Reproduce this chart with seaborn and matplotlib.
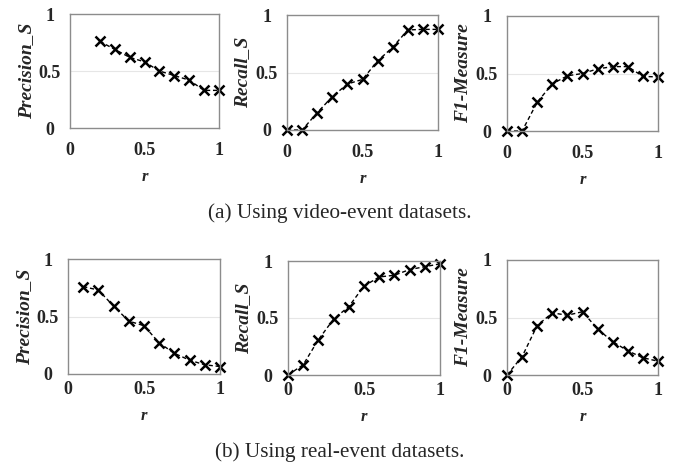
import matplotlib
matplotlib.use("Agg")
import matplotlib.pyplot as plt
import pandas as pd
import seaborn as sns

# values
r_all = [0.0, 0.1, 0.2, 0.3, 0.4, 0.5, 0.6, 0.7, 0.8, 0.9, 1.0]

video_prec_r = [0.2, 0.3, 0.4, 0.5, 0.6, 0.7, 0.8, 0.9, 1.0]
video_prec = [0.76, 0.69, 0.62, 0.58, 0.50, 0.46, 0.42, 0.33, 0.33]
video_recall = [0.0, 0.0, 0.15, 0.29, 0.40, 0.44, 0.60, 0.72, 0.87, 0.875, 0.875]
video_f1 = [0.0, 0.0, 0.25, 0.41, 0.48, 0.50, 0.54, 0.56, 0.56, 0.475, 0.47]

real_prec_r = [0.1, 0.2, 0.3, 0.4, 0.5, 0.6, 0.7, 0.8, 0.9, 1.0]
real_prec = [0.76, 0.73, 0.59, 0.46, 0.42, 0.27, 0.18, 0.12, 0.08, 0.065]
real_recall = [0.0, 0.09, 0.31, 0.49, 0.60, 0.78, 0.86, 0.875, 0.925, 0.95, 0.975]
real_f1 = [0.0, 0.16, 0.43, 0.54, 0.52, 0.55, 0.40, 0.29, 0.21, 0.15, 0.12]

ylabels = ["Precision_S", "Recall_S", "F1-Measure"]
captions = ["(a) Using video-event datasets.", "(b) Using real-event datasets."]

sns.set_style("white")
plt.rcParams["font.family"] = ["Liberation Serif", "DejaVu Serif"]

W, H = 681, 463
fig = plt.figure(figsize=(W / 100, H / 100), dpi=100)

# axes boxes in pixels: (left, top, right, bottom)
boxes = [
    [(70, 14, 219, 128), (287, 15, 438, 130), (507, 16, 658, 131)],
    [(68, 259, 220, 374), (288, 261, 440, 375), (507, 260, 658, 375)],
]
series = [
    [(video_prec_r, video_prec), (r_all, video_recall), (r_all, video_f1)],
    [(real_prec_r, real_prec), (r_all, real_recall), (r_all, real_f1)],
]
xpads = [10, 5]

for row in range(2):
    for col in range(3):
        l, t, r, b = boxes[row][col]
        ax = fig.add_axes([l / W, 1 - b / H, (r - l) / W, (b - t) / H])
        xs, ys = series[row][col]
        df = pd.DataFrame({"r": xs, "v": ys})
        ax.axhline(0.5, color="#e6e6e6", lw=0.8, zorder=0)
        sns.lineplot(data=df, x="r", y="v", ax=ax, color="black", lw=1.0,
                     linestyle=(0, (3, 2)), marker="x", markersize=7,
                     markeredgewidth=1.8, markeredgecolor="black", clip_on=False)
        ax.set_xlim(0, 1)
        ax.set_ylim(0, 1)
        ax.set_xticks([0, 0.5, 1])
        ax.set_xticklabels(["0", "0.5", "1"])
        ax.set_yticks([0, 0.5, 1])
        ax.set_yticklabels(["0", "0.5", "1"])
        ax.tick_params(axis="x", length=0, labelsize=13, pad=xpads[row])
        ax.tick_params(axis="y", length=0, labelsize=13, pad=14.5)
        for lab in ax.get_xticklabels() + ax.get_yticklabels():
            lab.set_fontweight("bold")
        for lab in ax.get_yticklabels():
            lab.set_horizontalalignment("center")
        for sp in ax.spines.values():
            sp.set_color("#8c8c8c")
            sp.set_linewidth(1.0)
        ax.set_xlabel("r", fontsize=12, fontstyle="italic", fontweight="bold", labelpad=7)
        ax.set_ylabel(ylabels[col], fontsize=14, fontstyle="italic", fontweight="bold", labelpad=3)

fig.text(340 / W, 1 - 213 / H, captions[0], ha="center", va="center", fontsize=15.3)
fig.text(340 / W, 1 - 452 / H, captions[1], ha="center", va="center", fontsize=15.3)

fig.savefig("out.png", dpi=100)
